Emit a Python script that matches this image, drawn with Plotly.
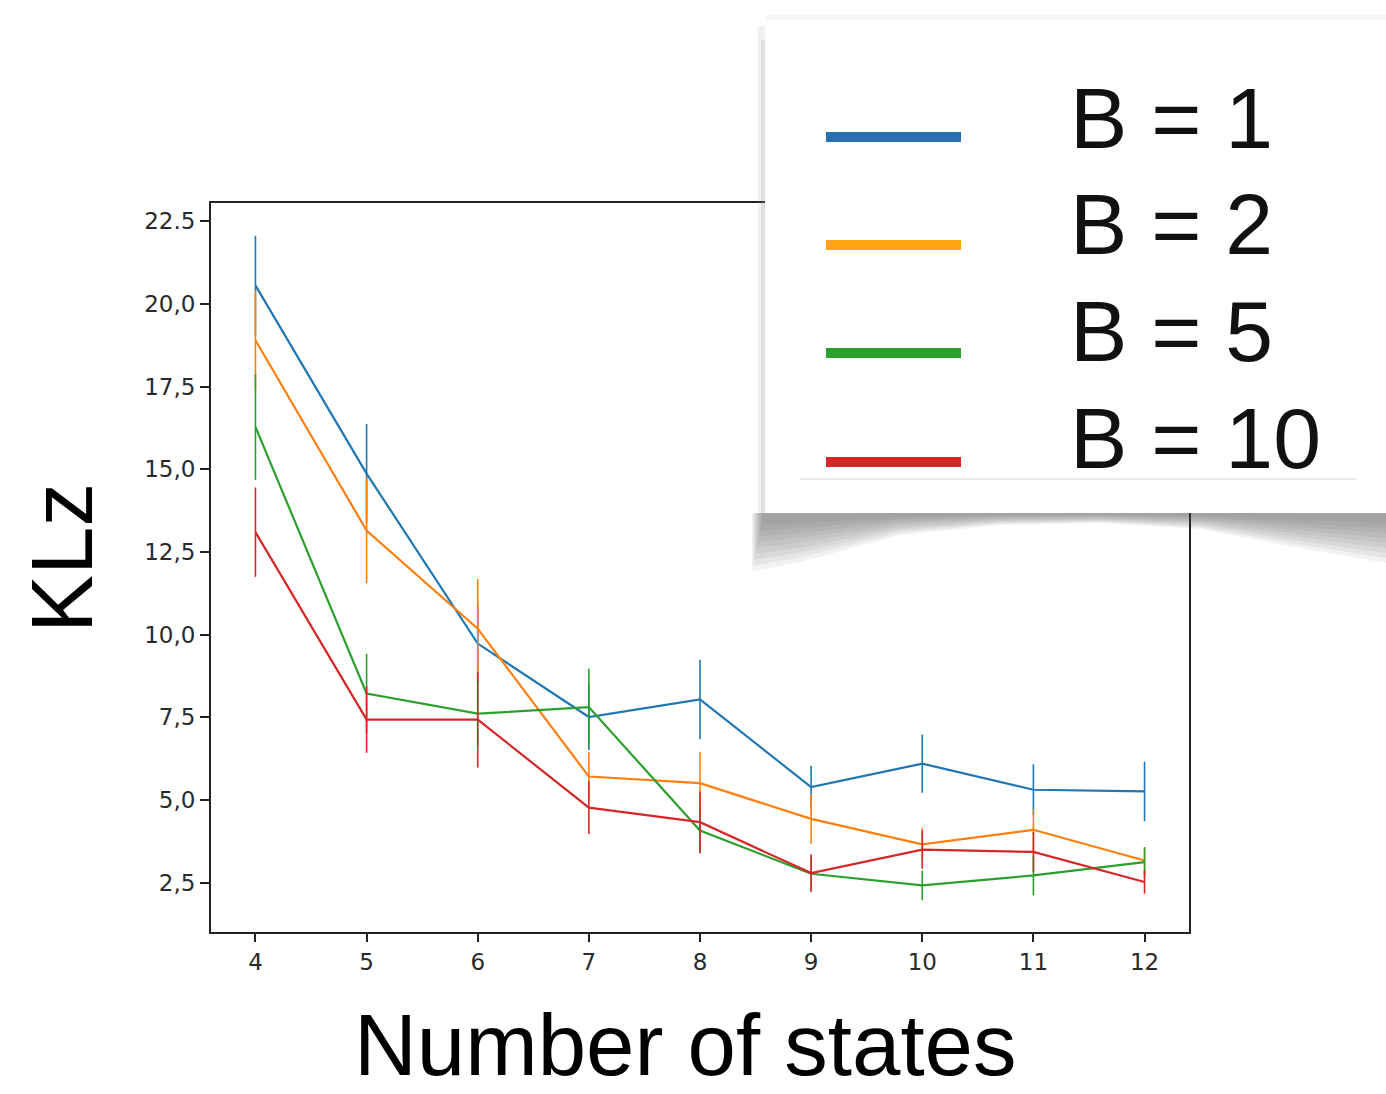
import plotly.graph_objects as go

# ---- data ----
states = [4, 5, 6, 7, 8, 9, 10, 11, 12]
series_names = ["B = 1", "B = 2", "B = 5", "B = 10"]
colors = ["#1f77b4", "#ff7f0e", "#2ca02c", "#d62728"]
legend_colors = ["#2a70b0", "#ffa514", "#2ca02c", "#d62728"]

klz_b1 = [20.56, 14.87, 9.73, 7.51, 8.04, 5.39, 6.10, 5.31, 5.26]
err_b1 = [1.50, 1.50, 1.20, 1.00, 1.20, 0.65, 0.88, 0.77, 0.90]
klz_b2 = [18.90, 13.15, 10.18, 5.71, 5.51, 4.43, 3.66, 4.10, 3.17]
err_b2 = [1.50, 1.60, 1.50, 0.75, 0.95, 0.75, 0.50, 0.64, 0.40]
klz_b5 = [16.28, 8.22, 7.61, 7.81, 4.08, 2.77, 2.42, 2.72, 3.12]
err_b5 = [1.60, 1.20, 1.00, 1.16, 0.70, 0.50, 0.45, 0.60, 0.45]
klz_b10 = [13.10, 7.43, 7.43, 4.77, 4.33, 2.79, 3.50, 3.43, 2.52]
err_b10 = [1.35, 1.00, 1.45, 0.80, 0.93, 0.57, 0.58, 0.60, 0.35]

y_tickvals = [2.5, 5.0, 7.5, 10.0, 12.5, 15.0, 17.5, 20.0, 22.5]
y_ticktext = ["2,5", "5,0", "7,5", "10,0", "12,5", "15,0", "17,5", "20,0", "22.5"]
x_ticktext = [str(s) for s in states]

values = [klz_b1, klz_b2, klz_b5, klz_b10]
errors = [err_b1, err_b2, err_b5, err_b10]

# ---- figure geometry ----
W, H = 1386, 1094
L, R, T, B = 211, 1189, 203, 932   # plot area in pixels


def px(xp):
    return (xp - L) / (R - L)


def py(yp):
    return (B - yp) / (B - T)


fig = go.Figure()

for name, col, yv, ev in zip(series_names, colors, values, errors):
    fig.add_trace(go.Scatter(
        x=states, y=yv, mode="lines", name=name,
        line=dict(color=col, width=2.2),
        error_y=dict(type="data", array=ev, visible=True, color=col,
                     thickness=1.6, width=0),
        showlegend=False,
    ))

shapes = []
# soft paper-curl shadow under the pasted legend card
n_layers = 9
for i in range(n_layers):
    f = i / (n_layers - 1)          # 0 = outermost, 1 = innermost
    dl = 58 - 46 * f                # depth at left end
    dm = 10 - 8 * f                 # depth in the middle
    dr = 50 - 40 * f                # depth at right end
    x_left = 752 + 10 * f
    pts = [(x_left, 513), (x_left, 513 + dl), (800, 513 + dl * 0.85),
           (900, 513 + dm * 2.2), (1000, 513 + dm * 1.2), (1100, 513 + dm),
           (1200, 513 + dm * 1.6), (1300, 513 + dr * 0.7), (1386, 513 + dr), (1386, 513)]
    path = "M " + " L ".join(f"{px(a):.5f},{py(b):.5f}" for a, b in pts) + " Z"
    shapes.append(dict(type="path", xref="paper", yref="paper", path=path,
                       fillcolor="#444444", opacity=0.07, line=dict(width=0), layer="above"))
# left edge shadow of the card
shapes.append(dict(type="rect", xref="paper", yref="paper",
                   x0=px(758), x1=px(766), y0=py(513), y1=py(26),
                   fillcolor="#888888", opacity=0.12, line=dict(width=0), layer="above"))
shapes.append(dict(type="rect", xref="paper", yref="paper",
                   x0=px(761), x1=px(766), y0=py(513), y1=py(40),
                   fillcolor="#888888", opacity=0.18, line=dict(width=0), layer="above"))
# top edge faint shade
shapes.append(dict(type="rect", xref="paper", yref="paper",
                   x0=px(766), x1=px(1400), y0=py(20), y1=py(15),
                   fillcolor="#bbbbbb", opacity=0.12, line=dict(width=0), layer="above"))
# card
shapes.append(dict(type="rect", xref="paper", yref="paper",
                   x0=px(765), x1=px(1400), y0=py(513), y1=py(20),
                   fillcolor="white", line=dict(width=0), layer="above"))
# thin rule under last legend item
shapes.append(dict(type="line", xref="paper", yref="paper",
                   x0=px(800), x1=px(1357), y0=py(479), y1=py(479),
                   line=dict(color="#d6d6d6", width=1.2), layer="above"))

# legend on the card: swatches + labels
legend_rows_y = [137, 245, 353, 462]       # swatch centres (px)
legend_text_y = [118, 224, 331, 438]       # label cap centres (px)
annotations = []
for name, col, ys, yt in zip(series_names, legend_colors, legend_rows_y, legend_text_y):
    shapes.append(dict(type="line", xref="paper", yref="paper",
                       x0=px(826), x1=px(961), y0=py(ys), y1=py(ys),
                       line=dict(color=col, width=10), layer="above"))
    annotations.append(dict(text=name, xref="paper", yref="paper",
                            x=px(1068), y=py(yt), xanchor="left", yanchor="middle",
                            showarrow=False,
                            font=dict(family="Liberation Sans", size=86, color="#111111")))

annotations += [
    dict(text="KLz", xref="paper", yref="paper", x=px(61), y=py(558),
         xanchor="center", yanchor="middle", textangle=-90, showarrow=False,
         font=dict(family="Liberation Sans", size=87, color="#000000")),
    dict(text="Number of states", xref="paper", yref="paper", x=px(685), y=py(1044),
         xanchor="center", yanchor="middle", showarrow=False,
         font=dict(family="Liberation Sans", size=87, color="#000000")),
]

tick_font = dict(family="DejaVu Sans", size=23, color="#2a2a2a")

fig.update_layout(
    width=W, height=H,
    margin=dict(l=L, r=W - R, t=T, b=H - B, pad=0),
    paper_bgcolor="white", plot_bgcolor="white",
    showlegend=False,
    xaxis=dict(
        range=[3.6, 12.4], tickvals=states, ticktext=x_ticktext,
        showgrid=False, zeroline=False,
        showline=True, linecolor="#222222", linewidth=2, mirror=True,
        ticks="outside", ticklen=8, tickwidth=2, tickcolor="#222222",
        tickfont=tick_font,
    ),
    yaxis=dict(
        range=[1.01, 23.05], tickvals=y_tickvals, ticktext=y_ticktext,
        showgrid=False, zeroline=False,
        showline=True, linecolor="#222222", linewidth=2, mirror=True,
        ticks="outside", ticklen=9, tickwidth=2, tickcolor="#222222",
        tickfont=tick_font,
    ),
    shapes=shapes,
    annotations=annotations,
)

fig.write_html("out.html", config={"displayModeBar": False},
               post_script="document.body.style.margin='0';document.body.style.overflow='hidden';")
